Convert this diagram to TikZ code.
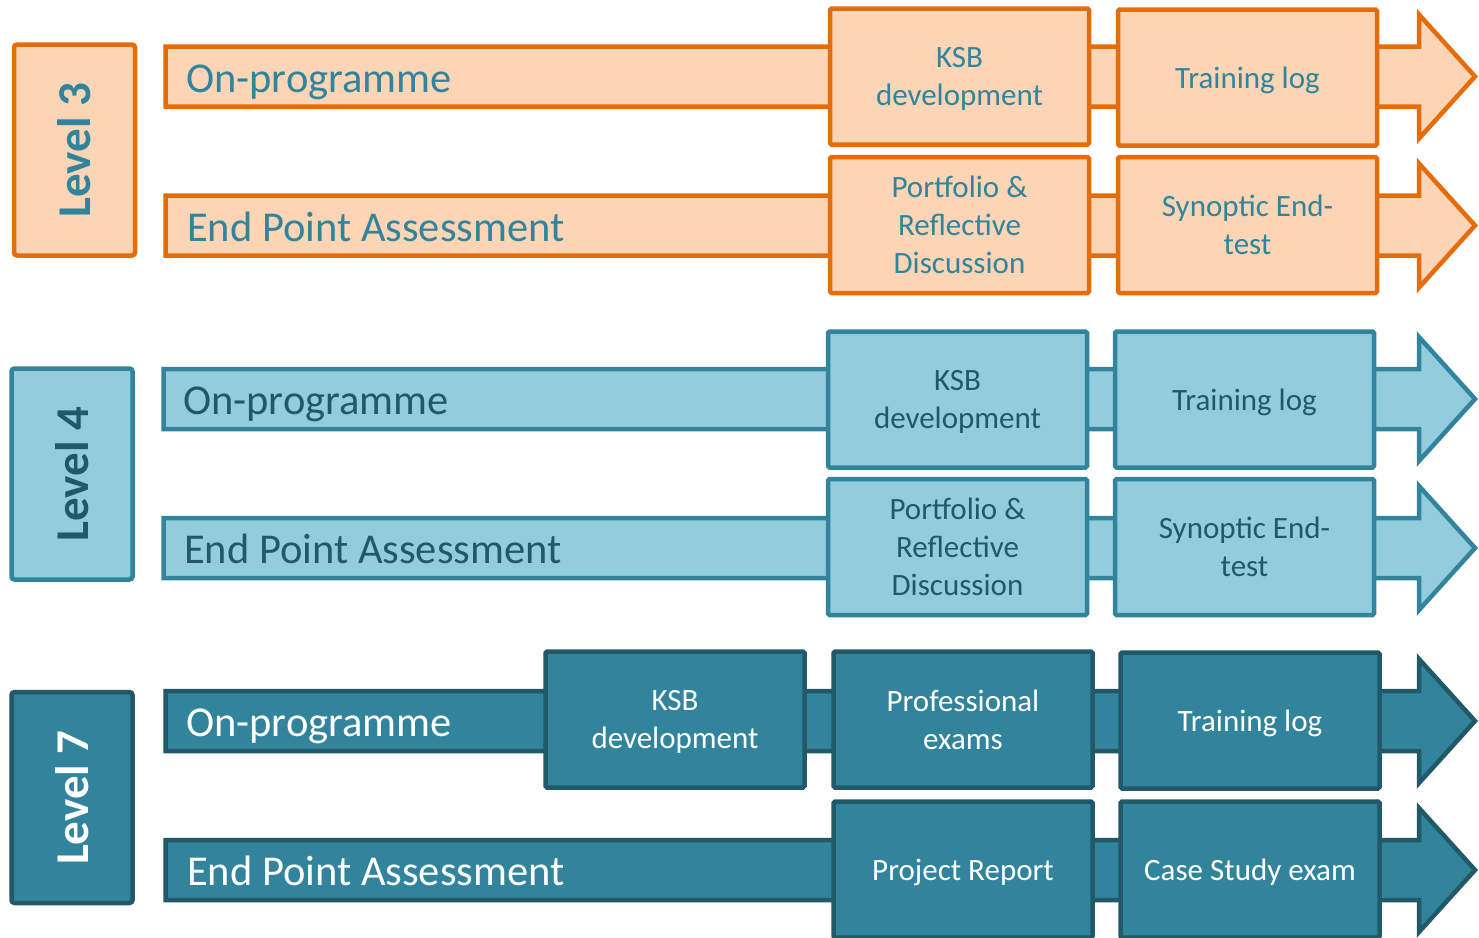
\documentclass[tikz,border=0pt]{standalone}
\usepackage{fontspec}
\setmainfont{Carlito}
\usetikzlibrary{positioning}

\definecolor{orangeline}{HTML}{E46C0A}
\definecolor{peach}{HTML}{FBD5B5}
\definecolor{tealmid}{HTML}{31849B}
\definecolor{tealpale}{HTML}{93CDDD}
\definecolor{tealdark}{HTML}{215968}

\tikzset{
  lvthree/.style={draw=orangeline, fill=peach, text=tealmid},
  lvfour/.style={draw=tealmid, fill=tealpale, text=tealdark},
  lvseven/.style={draw=tealdark, fill=tealmid, text=white},
  levelbox/.style={line width=4.5pt, rounded corners=3pt, rotate=90, minimum width=211pt, minimum height=121pt, inner sep=0pt, font=\fontsize{47}{50}\selectfont\bfseries},
  stepbox/.style={line width=4.5pt, rounded corners=1.5pt, minimum width=259pt, minimum height=136pt, inner sep=0pt, align=center, text depth=0pt, font=\fontsize{31}{38}\selectfont},
  bartext/.style={anchor=base west, inner sep=0pt, font=\fontsize{42.5}{46}\selectfont},
}

% shaft from x=#2 at row centre #3, head at the right edge
\newcommand{\blockarrow}[3]{%
  \draw[#1, line width=4.5pt] (#2,#3-30) -- (1419,#3-30) -- (1419,#3-62) -- (1475,#3) -- (1419,#3+62) -- (1419,#3+30) -- (#2,#3+30) -- cycle;}

\begin{document}
\begin{tikzpicture}[x=1pt, y=-1pt]
  \useasboundingbox (0,0) rectangle (1479,937);
  \clip (0,0) rectangle (1479,937);

  % Level 3
  \node[levelbox, lvthree] (lv3) at (74.5,150) {Level 3};
  \blockarrow{lvthree}{165.5}{76.5}
  \blockarrow{lvthree}{165.5}{225.5}
  \node[bartext, tealmid] (op3) at (186,92) {On-programme};
  \node[bartext, tealmid] (epa3) at (187,241) {End Point Assessment};
  \node[stepbox, lvthree] (ksb3) at (959.5,76.5) {KSB\\development};
  \node[stepbox, lvthree] (log3) at (1247.5,77.5) {Training log};
  \node[stepbox, lvthree] (port3) at (959.5,225) {Portfolio \&\\Reflective\\Discussion};
  \node[stepbox, lvthree] (syn3) at (1247.5,225) {Synoptic End-\\test};

  % Level 4
  \node[levelbox, lvfour] (lv4) at (72,474) {Level 4};
  \blockarrow{lvfour}{163.5}{399}
  \blockarrow{lvfour}{163.5}{548}
  \node[bartext, tealdark] (op4) at (183,414.5) {On-programme};
  \node[bartext, tealdark] (epa4) at (184,563.5) {End Point Assessment};
  \node[stepbox, lvfour] (ksb4) at (957.5,399.5) {KSB\\development};
  \node[stepbox, lvfour] (log4) at (1244.5,399.5) {Training log};
  \node[stepbox, lvfour] (port4) at (957.5,547) {Portfolio \&\\Reflective\\Discussion};
  \node[stepbox, lvfour] (syn4) at (1244.5,547) {Synoptic End-\\test};

  % Level 7
  \node[levelbox, lvseven] (lv7) at (72,797.5) {Level 7};
  \blockarrow{lvseven}{165.5}{721}
  \blockarrow{lvseven}{165.5}{870}
  \node[bartext, white] (op7) at (186,736.5) {On-programme};
  \node[bartext, white] (epa7) at (187,885.5) {End Point Assessment};
  \node[stepbox, lvseven] (ksb7) at (675,719.5) {KSB\\development};
  \node[stepbox, lvseven] (exam7) at (963,719.5) {Professional\\exams};
  \node[stepbox, lvseven] (log7) at (1250,720.5) {Training log};
  \node[stepbox, lvseven] (rep7) at (963,869.5) {Project Report};
  \node[stepbox, lvseven] (case7) at (1250,869.5) {Case Study exam};
\end{tikzpicture}
\end{document}
